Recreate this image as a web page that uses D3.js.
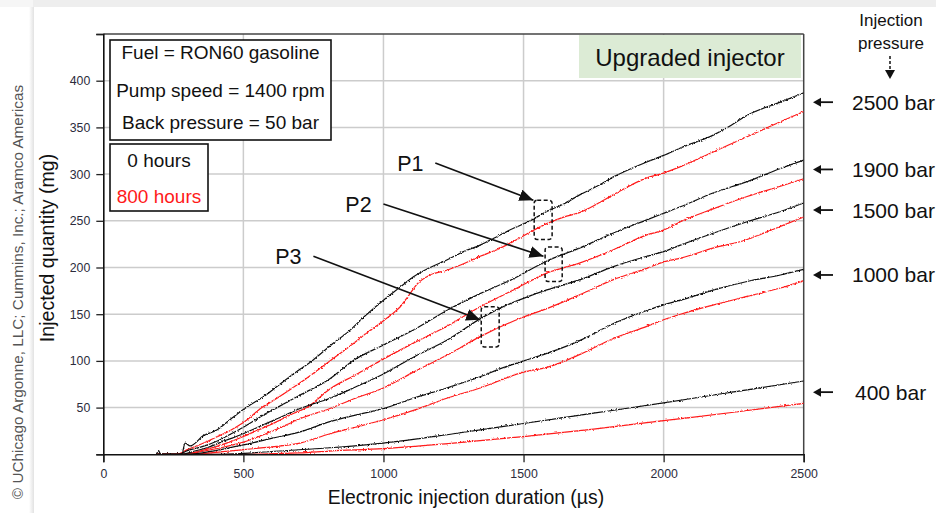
<!DOCTYPE html>
<html><head><meta charset="utf-8">
<script src="https://cdn.jsdelivr.net/npm/d3@7"></script>
<style>
html,body{margin:0;padding:0;background:#fff;}
svg{display:block;font-family:Arial,"Liberation Sans",sans-serif;}
</style></head>
<body><svg id="chart" width="936" height="513"></svg>
<script>
// ---------- data ----------
const xTicks = [0, 500, 1000, 1500, 2000, 2500];
const yTicks = [0, 50, 100, 150, 200, 250, 300, 350, 400, 450];
const yTickLabels = ["", "50", "100", "150", "200", "250", "300", "350", "400", ""];
const pressures = ["2500 bar", "1900 bar", "1500 bar", "1000 bar", "400 bar"];
const hoursLabels = ["0 hours", "800 hours"];

// [duration µs, quantity mg]
const q2500_0h = [[190,0],[197,4],[205,0],[280,0],[292,12],[310,9],[357,20],[405,26],[452,37],[500,48],[583,64],[643,78],[702,91],[745,100],[809,116],[881,133],[941,150],[1000,165],[1060,179],[1107,190],[1167,200],[1226,208],[1286,217],[1345,224],[1405,233],[1464,242],[1524,250],[1583,260],[1643,268],[1702,278],[1762,287],[1821,297],[1940,313],[2000,320],[2060,328],[2179,342],[2240,352],[2298,363],[2417,377],[2500,387]];
const q2500_800h = [[190,0],[262,0],[300,5],[350,11],[400,18],[450,25],[500,34],[566,50],[620,60],[700,76],[760,89],[809,100],[881,116],[941,130],[1000,143],[1030,150],[1060,158],[1090,170],[1119,182],[1167,192],[1226,197],[1286,204],[1345,212],[1405,219],[1464,228],[1524,238],[1583,247],[1643,254],[1702,259],[1762,268],[1821,278],[1940,296],[2000,301],[2060,308],[2179,324],[2298,340],[2417,356],[2500,367]];
const q1900_0h = [[190,0],[270,0],[300,4],[350,8],[405,14],[450,21],[500,29],[560,40],[620,50],[700,63],[809,81],[890,100],[1000,117],[1107,133],[1226,154],[1345,172],[1464,188],[1583,207],[1702,221],[1821,237],[1940,251],[2000,258],[2060,265],[2179,280],[2298,292],[2417,306],[2500,315]];
const q1900_800h = [[190,0],[290,0],[350,4],[400,8],[450,13],[500,19],[560,27],[620,35],[680,44],[726,50],[809,70],[900,85],[988,100],[1107,119],[1226,137],[1345,158],[1464,176],[1583,194],[1702,205],[1821,219],[1940,235],[2000,240],[2060,249],[2179,263],[2298,276],[2417,287],[2500,295]];
const q1500_0h = [[190,0],[280,0],[320,3],[370,7],[420,13],[500,22],[560,30],[620,38],[702,49],[809,60],[900,72],[1000,86],[1107,104],[1226,122],[1345,145],[1420,157],[1500,167],[1583,176],[1702,187],[1821,201],[1940,212],[2000,217],[2060,224],[2179,237],[2298,249],[2417,260],[2500,269]];
const q1500_800h = [[190,0],[290,0],[350,3],[420,7],[500,13],[580,22],[650,31],[702,38],[809,49],[900,60],[1000,71],[1107,88],[1226,106],[1345,126],[1500,147],[1583,156],[1702,171],[1821,187],[1940,199],[2000,206],[2060,210],[2179,221],[2298,230],[2350,236],[2417,244],[2500,254]];
const q1000_0h = [[190,0],[300,0],[400,4],[500,10],[600,17],[702,24],[809,35],[900,42],[1000,49],[1107,60],[1226,71],[1345,83],[1420,92],[1500,100],[1583,108],[1702,122],[1762,131],[1821,140],[1940,154],[2000,160],[2060,165],[2179,176],[2298,185],[2417,192],[2500,198]];
const q1000_800h = [[190,0],[310,0],[400,2],[500,5],[600,8],[702,12],[809,22],[900,29],[1000,37],[1107,47],[1226,60],[1345,71],[1500,88],[1583,93],[1702,107],[1821,124],[1940,137],[2000,144],[2060,150],[2179,160],[2298,169],[2417,178],[2500,186]];
const q400_0h = [[190,0],[420,0],[600,3],[809,7],[1000,12],[1250,22],[1500,33],[1750,44],[2000,55],[2179,63.5],[2298,69],[2500,78.5]];
const q400_800h = [[190,0],[480,0],[700,1.5],[809,3.5],[1000,6],[1250,12],[1500,19],[1750,27],[2000,36],[2250,45],[2500,54.6]];

const series0h = [q2500_0h, q1900_0h, q1500_0h, q1000_0h, q400_0h];
const series800h = [q2500_800h, q1900_800h, q1500_800h, q1000_800h, q400_800h];

// annotations in data coordinates
const pLabels = ["P1", "P2", "P3"];
const pLabelPos = [[1185, 312], [1000, 268], [750, 212]];
const pArrowEnd = [[1535, 272], [1571, 212], [1345, 144]];
const pBoxX = [[1538, 1602], [1577, 1638], [1349, 1413]];
const pBoxY = [[230, 272], [185, 222], [115, 158]];

// ---------- drawing ----------
const FONT = "Arial,'Liberation Sans',sans-serif";
const svg = d3.select("#chart");
const defs = svg.append("defs");
const x = d3.scaleLinear().domain([0, 2500]).range([103.3, 803.7]);
const y = d3.scaleLinear().domain([0, 450]).range([454.3, 34]);

// frame background
svg.append("rect").attr("x",0).attr("y",0).attr("width",936).attr("height",513).attr("fill","#ffffff");
svg.append("rect").attr("x",33).attr("y",0).attr("width",903).attr("height",7).attr("fill","#eeeeee");
svg.append("rect").attr("x",0).attr("y",0).attr("width",33).attr("height",7).attr("fill","#f6f6f6");
const grad = defs.append("linearGradient").attr("id","sh").attr("x1","0").attr("x2","1");
grad.append("stop").attr("offset","0").attr("stop-color","#ffffff");
grad.append("stop").attr("offset","1").attr("stop-color","#e2e2e2");
svg.append("rect").attr("x",29).attr("y",7).attr("width",5).attr("height",506).attr("fill","url(#sh)");

// copyright
svg.append("text").attr("transform","translate(23,292) rotate(-90)")
  .attr("text-anchor","middle").attr("font-size",15.3).attr("fill","#555")
  .text("© UChicago Argonne, LLC; Cummins, Inc.; Aramco Americas");

// gridlines
const grid = svg.append("g");
grid.selectAll("line.v").data(xTicks.filter(d => d > 0 && d < 2500)).join("line")
  .attr("x1", d => x(d)).attr("x2", d => x(d)).attr("y1", y(0)).attr("y2", y(450))
  .attr("stroke","#cccccc").attr("stroke-width",1.5);
grid.selectAll("line.h").data(yTicks.filter(d => d > 0 && d < 450)).join("line")
  .attr("x1", x(0)).attr("x2", x(2500)).attr("y1", d => y(d)).attr("y2", d => y(d))
  .attr("stroke","#cccccc").attr("stroke-width",1.5);

// plot border (top & right)
svg.append("line").attr("x1",x(0)).attr("x2",x(2500)).attr("y1",y(450)).attr("y2",y(450)).attr("stroke","#444").attr("stroke-width",1.5);
svg.append("line").attr("x1",x(2500)).attr("x2",x(2500)).attr("y1",y(450)).attr("y2",y(0)).attr("stroke","#444").attr("stroke-width",1.5);

// trace style: measured signal looks slightly jagged
const f = defs.append("filter").attr("id","trace").attr("x","-2%").attr("y","-2%").attr("width","104%").attr("height","104%");
f.append("feTurbulence").attr("type","fractalNoise").attr("baseFrequency","0.7").attr("numOctaves",1).attr("seed",3).attr("result","n");
f.append("feDisplacementMap").attr("in","SourceGraphic").attr("in2","n").attr("scale",3).attr("xChannelSelector","R").attr("yChannelSelector","G");

// curves
defs.append("clipPath").attr("id","clip").append("rect")
  .attr("x",x(0)).attr("y",y(450)).attr("width",x(2500)-x(0)).attr("height",y(0)-y(450));
const line = d3.line().curve(d3.curveMonotoneX).x(d => x(d[0])).y(d => y(d[1]));
const curves = svg.append("g").attr("clip-path","url(#clip)").append("g").attr("filter","url(#trace)");
curves.selectAll("path.r").data(series800h).join("path")
  .attr("d", line).attr("fill","none").attr("stroke","#ff1a1a").attr("stroke-width",1.2);
curves.selectAll("path.k").data(series0h).join("path")
  .attr("d", line).attr("fill","none").attr("stroke","#111").attr("stroke-width",1.2);

// axes
const xAxis = d3.axisBottom(x).tickValues(xTicks).tickSize(8).tickPadding(7).tickFormat(d3.format("d"));
const gx = svg.append("g").attr("transform",`translate(0,${y(0)})`).call(xAxis);
const yAxis = d3.axisLeft(y).tickValues(yTicks).tickSize(7).tickPadding(6).tickFormat((d,i) => yTickLabels[i]);
const gy = svg.append("g").attr("transform",`translate(${x(0)},0)`).call(yAxis);
[gx, gy].forEach(g => {
  g.select(".domain").attr("stroke","#111").attr("stroke-width",1.6);
  g.selectAll(".tick line").attr("stroke","#222").attr("stroke-width",1.3);
  g.selectAll(".tick text").attr("font-size",12.3).attr("fill","#2b2b3b").attr("font-family",FONT);
});

// axis titles
svg.append("text").attr("x",466).attr("y",504).attr("text-anchor","middle").attr("font-size",19.4).attr("fill","#111")
  .text("Electronic injection duration (µs)");
svg.append("text").attr("transform","translate(54,248) rotate(-90)").attr("text-anchor","middle").attr("font-size",19.6).attr("fill","#111")
  .text("Injected quantity (mg)");

// info boxes
svg.append("rect").attr("x",110).attr("y",40).attr("width",221).attr("height",100).attr("fill","#fff").attr("stroke","#111").attr("stroke-width",1.6);
const info = ["Fuel = RON60 gasoline", "Pump speed = 1400 rpm", "Back pressure = 50 bar"];
svg.selectAll("text.info").data(info).join("text")
  .attr("x",220.5).attr("y",(d,i) => [59, 97, 129][i]).attr("text-anchor","middle").attr("font-size",19).attr("fill","#111").text(d => d);
svg.append("rect").attr("x",110).attr("y",144).attr("width",98).attr("height",67).attr("fill","#fff").attr("stroke","#111").attr("stroke-width",1.6);
svg.selectAll("text.hrs").data(hoursLabels).join("text")
  .attr("x",159).attr("y",(d,i) => [166.5, 203][i]).attr("text-anchor","middle").attr("font-size",19)
  .attr("fill",(d,i) => i === 0 ? "#111" : "#ff1a1a").text(d => d);

// upgraded injector label
svg.append("rect").attr("x",579).attr("y",35).attr("width",222).attr("height",43).attr("fill","#dcebd5");
svg.append("text").attr("x",690).attr("y",65.5).attr("text-anchor","middle").attr("font-size",24).attr("fill","#111").text("Upgraded injector");

// injection pressure header
svg.append("text").attr("x",891).attr("y",26).attr("text-anchor","middle").attr("font-size",17).attr("fill","#111").text("Injection");
svg.append("text").attr("x",891).attr("y",49).attr("text-anchor","middle").attr("font-size",17).attr("fill","#111").text("pressure");
svg.append("line").attr("x1",890).attr("x2",890).attr("y1",56).attr("y2",71).attr("stroke","#111").attr("stroke-width",1.5).attr("stroke-dasharray","3,2");
svg.append("path").attr("d","M885,70 L895,70 L890,79 Z").attr("fill","#111");

// pressure labels at right, placed midway between end values of the two series
const ends = pressures.map((p,i) => (series0h[i][series0h[i].length-1][1] + series800h[i][series800h[i].length-1][1]) / 2);
const pg = svg.selectAll("g.pl").data(pressures).join("g").attr("transform",(d,i) => `translate(0,${y(ends[i])})`);
pg.append("line").attr("x1",819).attr("x2",833).attr("y1",0).attr("y2",0).attr("stroke","#111").attr("stroke-width",1.8);
pg.append("path").attr("d","M813,0 L821,-4.5 L821,4.5 Z").attr("fill","#111");
pg.append("text").attr("x",(d,i) => i === 4 ? 855 : 852).attr("y",7.5).attr("font-size",21).attr("fill","#111").text(d => d);

// P annotations
defs.append("marker").attr("id","ah").attr("markerUnits","userSpaceOnUse").attr("markerWidth",16).attr("markerHeight",12)
  .attr("refX",14).attr("refY",6).attr("orient","auto")
  .append("path").attr("d","M0,0 L14,6 L0,12 Z").attr("fill","#111");
pLabels.forEach((lab,i) => {
  const [lx, ly] = pLabelPos[i];
  svg.append("text").attr("x", x(lx) - 25).attr("y", y(ly) + 8).attr("text-anchor","middle").attr("font-size",21.5).attr("fill","#111").text(lab);
  svg.append("line").attr("x1",x(lx)).attr("y1",y(ly)).attr("x2",x(pArrowEnd[i][0])).attr("y2",y(pArrowEnd[i][1]))
    .attr("stroke","#111").attr("stroke-width",1.6).attr("marker-end","url(#ah)");
  svg.append("rect").attr("x",x(pBoxX[i][0])).attr("y",y(pBoxY[i][1]))
    .attr("width",x(pBoxX[i][1]) - x(pBoxX[i][0])).attr("height",y(pBoxY[i][0]) - y(pBoxY[i][1]))
    .attr("rx",3).attr("fill","none").attr("stroke","#111").attr("stroke-width",1.5).attr("stroke-dasharray","4,2.5");
});
</script>
</body></html>
